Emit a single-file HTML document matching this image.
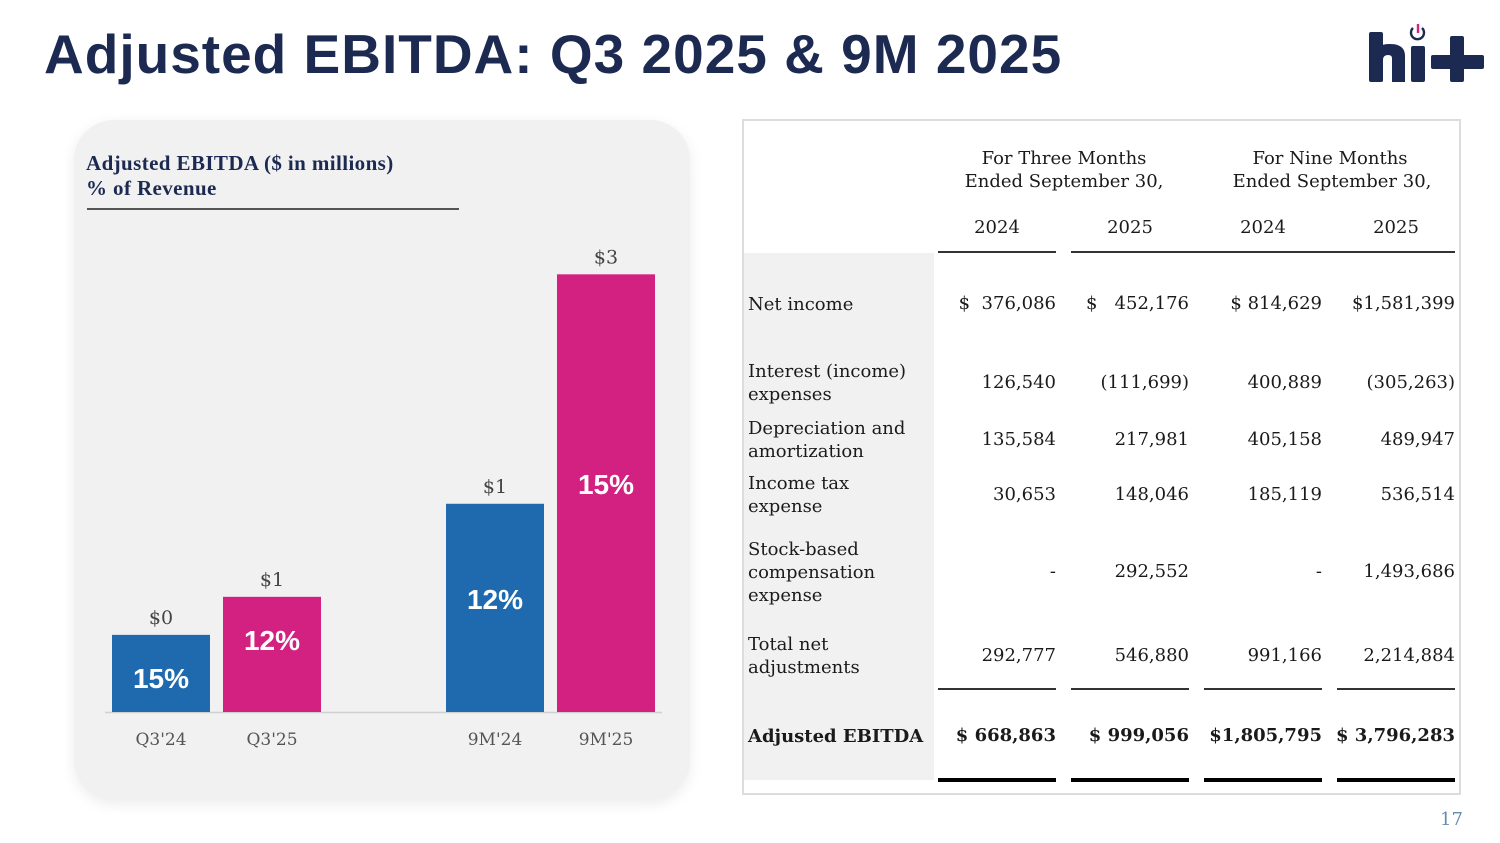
<!DOCTYPE html>
<html><head><meta charset="utf-8"><style>
*{margin:0;padding:0;box-sizing:border-box}
body{width:1500px;height:843px;background:#fff;position:relative;overflow:hidden;font-family:"DejaVu Serif",serif;color:#222}
.abs{position:absolute}
#title{left:44px;top:22px;font:bold 55px "Liberation Sans",sans-serif;color:#1c2a52;letter-spacing:1px;white-space:nowrap}
#card{left:74px;top:120px;width:616px;height:680px;background:#f1f1f1;border-radius:40px;box-shadow:0 4px 14px rgba(0,0,0,0.08)}
.ctitle{left:86px;font:bold 21px "Liberation Serif",serif;letter-spacing:0.4px;color:#1c2a52;white-space:nowrap}
#tbl{left:742px;top:119px;width:719px;height:676px;border:2px solid #dcdcdc;background:#fff}
#lblbg{left:744px;top:253px;width:190px;height:527px;background:#f1f1f1}
.t{position:absolute;font-size:18px;color:#1a1a1a;white-space:nowrap;line-height:23px;font-family:"DejaVu Serif",serif}
.r{text-align:right}
.c{text-align:center}
.ln{position:absolute;height:1.5px;background:#333}
.thk{position:absolute;height:4px;background:#000}
</style></head><body>
<div id="title" class="abs">Adjusted EBITDA: Q3 2025 &amp; 9M 2025</div>
<svg class="abs" style="left:1366px;top:22px" width="120" height="62">
<rect x="3" y="10" width="14" height="50" rx="2" fill="#1c2a52"/>
<path d="M9 32 Q9 22 24 22 Q39 22 39 34 L39 60 L26 60 L26 36 Q26 33 22 33 Q17 33 17 38 L17 60Z" fill="#1c2a52"/>
<rect x="45" y="24" width="14" height="36" rx="2" fill="#1c2a52"/>
<path d="M47 6 A6.5 6.5 0 1 0 56 6" fill="none" stroke="#1c2a52" stroke-width="2.4"/>
<rect x="50.8" y="2" width="2.4" height="9" fill="#d4237f"/>
<rect x="65" y="33" width="53" height="14" rx="2" fill="#1c2a52"/>
<rect x="84" y="14" width="14" height="46" rx="2" fill="#1c2a52"/>
</svg>

<div id="card" class="abs"></div>
<div class="abs ctitle" style="top:151px">Adjusted EBITDA ($ in millions)</div>
<div class="abs ctitle" style="top:176px">% of Revenue</div>
<div class="abs" style="left:87px;top:208px;width:372px;height:1.5px;background:#555"></div>
<svg id="chart" class="abs" style="left:0;top:0" width="700" height="800"></svg>

<div id="tbl" class="abs"></div>
<div id="lblbg" class="abs"></div>
<div id="tcontent"></div>
<div class="abs" style="left:1440px;top:809px;font:18px 'DejaVu Serif',serif;color:#6a8bb0">17</div>

<script>
const categories=["Q3'24","Q3'25","9M'24","9M'25"];
const ebitdaValues=[0.669,0.999,1.806,3.796];
const valueLabels=["$0","$1","$1","$3"];
const marginLabels=["15%","12%","12%","15%"];
const colors=["#1f6aae","#d32181","#1f6aae","#d32181"];
const ns="http://www.w3.org/2000/svg";
const svg=document.getElementById('chart');
const base=712, pxPerM=115.3;
const y=v=>base-v*pxPerM;
const xLeft=[112,223,446,557], bw=98;
function mk(tag,attrs){const e=document.createElementNS(ns,tag);for(const k in attrs)e.setAttribute(k,attrs[k]);svg.appendChild(e);return e;}
const ax=mk('line',{x1:105,x2:662,y1:base+0.5,y2:base+0.5,stroke:'#d0d0d0','stroke-width':1.5});


categories.forEach((c,i)=>{
  const x=xLeft[i], top=y(ebitdaValues[i]), cx=x+bw/2;
  const r=mk('rect',{x:x,y:top,width:bw,height:base-top,fill:colors[i]});
  
  
  const vl=mk('text',{x:cx,y:top-11,'text-anchor':'middle','font-size':19,fill:'#444','font-family':'DejaVu Serif,serif'});
  vl.textContent=valueLabels[i];
  
  
  const h=base-top;
  const my=h>150? top+h/2+1 : top+53;
  const ml=mk('text',{x:cx,y:my,'text-anchor':'middle','font-size':28,'font-weight':'bold',fill:'#fff','font-family':'Liberation Sans,sans-serif'});
  ml.textContent=marginLabels[i];
  
  
  const tl=mk('text',{x:cx,y:745,'text-anchor':'middle','font-size':17,fill:'#555','font-family':'DejaVu Serif,serif'});
  tl.textContent=c;
  
  
});

const tc=document.getElementById('tcontent');
function txt(s,x,yy,cls,name,extra){const d=document.createElement('div');d.className='t '+(cls||'');d.textContent=s;d.style.left=x+'px';d.style.top=yy+'px';if(extra)Object.assign(d.style,extra);


tc.appendChild(d);return d;}
function rt(s,right,yy,name,bold){return txt(s,0,yy,'r',name,{left:(right-170)+'px',width:'170px',fontWeight:bold?'bold':'normal'});}
function ct(s,cx,yy,name){return txt(s,0,yy,'c',name,{left:(cx-150)+'px',width:'300px'});}
ct('For Three Months',1064,147,'header-three-months');
ct('Ended September 30,',1064,170,'header-three-months-sub');
ct('For Nine Months',1330,147,'header-nine-months');
ct('Ended September 30,',1332,170,'header-nine-months-sub');
const rights=[1056,1189,1322,1455];
const yrs=['2024','2025','2024','2025'];
rights.forEach((r,i)=>ct(yrs[i],r-59,216,'year-header'));
function line(x,yy,w,cls,name){const d=document.createElement('div');d.className=cls;d.style.left=x+'px';d.style.top=yy+'px';d.style.width=w+'px';


tc.appendChild(d);}
line(938,251,118,'ln','header-rule');line(1071,251,384,'ln','header-rule');
rights.forEach(r=>{line(r-118,688,118,'ln','subtotal-rule');line(r-118,778,118,'thk','total-rule');});
const rows=[
 {l:['Net income'],y:304,v:['$  376,086','$   452,176','$ 814,629','$1,581,399']},
 {l:['Interest (income)','expenses'],y:383,v:['126,540','(111,699)','400,889','(305,263)']},
 {l:['Depreciation and','amortization'],y:440,v:['135,584','217,981','405,158','489,947']},
 {l:['Income tax','expense'],y:495,v:['30,653','148,046','185,119','536,514']},
 {l:['Stock-based','compensation','expense'],y:572,v:['-','292,552','-','1,493,686']},
 {l:['Total net','adjustments'],y:656,v:['292,777','546,880','991,166','2,214,884']},
 {l:['Adjusted EBITDA'],y:736,v:['$ 668,863','$ 999,056','$1,805,795','$ 3,796,283'],b:true}
];
rows.forEach(r=>{
  const top=r.y-r.l.length*23/2;
  r.l.forEach((s,k)=>{const d=txt(s,748,top+k*23,'','row-label');if(r.b)d.style.fontWeight='bold';});
  r.v.forEach((s,i)=>{const d=rt(s,rights[i],r.y-12,'cell-value',r.b);d.style.whiteSpace='pre';});
});
</script>
</body></html>
